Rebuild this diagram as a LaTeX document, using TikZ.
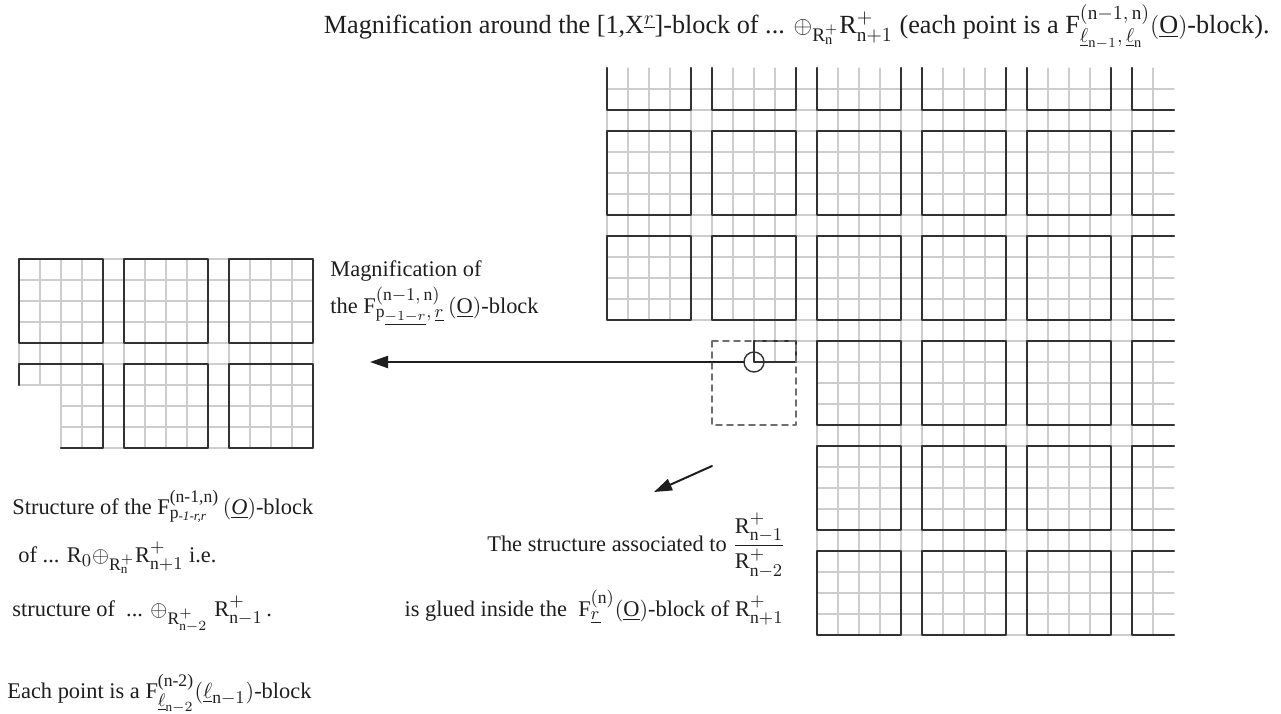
\documentclass[tikz,border=0pt]{standalone}
\usepackage{amsmath,amssymb}
\usepackage{fontspec}
\setmainfont{Liberation Serif}
\usepackage{tikz}
\usetikzlibrary{arrows.meta}
\DeclareMathSizes{11.2}{11.2}{8.8}{6.6}
\DeclareMathSizes{13.1}{13.1}{9.6}{7.2}

\definecolor{gridgray}{RGB}{205,205,205}
\definecolor{inkgray}{RGB}{50,50,50}
\definecolor{dashgray}{RGB}{110,110,110}
\definecolor{textblack}{RGB}{30,30,30}

\tikzset{
  thingrid/.style={draw=gridgray,line width=0.55pt},
  block/.style={draw=inkgray,line width=1.15pt},
  dashbox/.style={draw=dashgray,line width=0.8pt,dash pattern=on 3pt off 2.5pt},
  spot/.style={circle,draw=inkgray,line width=0.7pt,minimum size=10pt,inner sep=0pt},
  bigarrow/.style={draw=textblack,line width=1pt,-{Triangle[length=9pt,width=6pt]}},
  label/.style={font=\fontsize{11.2}{13.5}\selectfont,inner sep=0pt,text=textblack},
  headline/.style={font=\fontsize{13.1}{15.5}\selectfont,inner sep=0pt,text=textblack},
}

\begin{document}
\begin{tikzpicture}[x=0.5pt,y=-0.5pt,line cap=round,line join=round]
  \useasboundingbox (0,0) rectangle (1281,713);
  \foreach \k in {0,...,26} {
    \pgfmathsetmacro{\xx}{607+21*\k}
    \pgfmathsetmacro{\yb}{\xx<745 ? 320 : (\xx<810 ? 362 : 635)}
    \draw[thingrid] (\xx,68) -- (\xx,\yb);
  }
  \foreach \k in {0,...,26} {
    \pgfmathsetmacro{\yy}{89+21*\k}
    \pgfmathsetmacro{\xa}{\yy<330 ? 607 : (\yy<370 ? 754 : 817)}
    \draw[thingrid] (\xa,\yy) -- (1174,\yy);
  }
  \foreach \i in {0,...,4}
    \draw[block] ({607+105*\i},68) |- ({691+105*\i},110) -- ({691+105*\i},68);
  \draw[block] (1132,68) |- (1174,110);
  \foreach \j in {1,2}
    \foreach \i in {0,...,4}
      \draw[block] ({607+105*\i},{26+105*\j}) rectangle +(84,84);
  \foreach \j in {3,4,5}
    \foreach \i in {2,3,4}
      \draw[block] ({607+105*\i},{26+105*\j}) rectangle +(84,84);
  \foreach \j in {1,...,5}
    \draw[block] (1174,{26+105*\j}) -| (1132,{110+105*\j}) -- (1174,{110+105*\j});
  \draw[block] (754,341) rectangle (796,362);
  \draw[dashbox] (712,341) rectangle (796,425);

  \foreach \k in {0,...,14} {
    \pgfmathsetmacro{\xx}{19+21*\k}
    \pgfmathsetmacro{\yb}{\k<2 ? 385 : 448}
    \draw[thingrid] (\xx,259) -- (\xx,\yb);
  }
  \foreach \k in {0,...,9} {
    \pgfmathsetmacro{\yy}{259+21*\k}
    \pgfmathsetmacro{\xa}{\k<7 ? 19 : 61}
    \draw[thingrid] (\xa,\yy) -- (313,\yy);
  }
  \foreach \i in {0,1,2}
    \draw[block] ({19+105*\i},259) rectangle +(84,84);
  \foreach \i in {1,2}
    \draw[block] ({19+105*\i},364) rectangle +(84,84);
  \draw[block] (19,385) -- (19,364) -- (103,364) -- (103,448) -- (61,448);

  \node[spot] (spot) at (754,362) {};
  \coordinate (tip) at (370,362);
  \draw[bigarrow] (spot.west) -- (tip);
  \coordinate (from) at (712,466);
  \coordinate (to) at (654,492);
  \draw[bigarrow] (from) -- (to);

  \node[headline,anchor=base east] (title) at (1270,33) {Magnification around the [1,X$^{\underline{r}}$]-block of ... $\oplus_{\mathrm{R}_{\mathrm{n}}^{+}}\mathrm{R}^{+}_{\mathrm{n}+1}$ (each point is a $\mathrm{F}^{(\mathrm{n}-1,\,\mathrm{n})}_{\underline{\ell}_{\mathrm{n}-1},\,\underline{\ell}_{\mathrm{n}}}(\underline{\mathrm{O}})$-block).};
  \node[label,anchor=base west] (magnif) at (330,276) {Magnification of};
  \node[label,anchor=base west] (magblock) at (330,313) {the $\mathrm{F}^{(\mathrm{n}-1,\,\mathrm{n})}_{\mathrm{p}_{\underline{-1-r}},\,\underline{r}}\,(\underline{\mathrm{O}})$-block};
  \node[label,anchor=base west] (struct) at (12,514) {Structure of the $\mathrm{F}^{\text{(n-1,n)}}_{\mathrm{p}_{\textit{-1-r,r}}}\,(\underline{\textit{O}})$-block};
  \node[label,anchor=base west] (ofsum) at (18,562) {of ... $\mathrm{R}_0{\oplus}_{\mathrm{R}^+_{\mathrm{n}}}\mathrm{R}^+_{\mathrm{n}+1}$ i.e.};
  \node[label,anchor=base west] (structof) at (12,616) {structure of\ \ ... ${\oplus}_{\mathrm{R}^+_{\mathrm{n}-2}}\;\mathrm{R}^+_{\mathrm{n}-1}\,$.};
  \node[label,anchor=base west] (eachpt) at (7,698) {Each point is a $\mathrm{F}^{\text{(n-2)}}_{\underline{\ell}_{\mathrm{n}-2}}(\underline{\ell}_{\mathrm{n}-1})$-block};
  \node[label,anchor=base east] (assoc) at (786,551) {The structure associated to $\dfrac{\mathrm{R}^+_{\mathrm{n}-1}}{\mathrm{R}^+_{\mathrm{n}-2}}$};
  \node[label,anchor=base east] (glued) at (784,616) {is glued inside the \ $\mathrm{F}^{(\mathrm{n})}_{\underline{r}}(\underline{\mathrm{O}})$-block of $\mathrm{R}^+_{\mathrm{n}+1}$};
\end{tikzpicture}
\end{document}
